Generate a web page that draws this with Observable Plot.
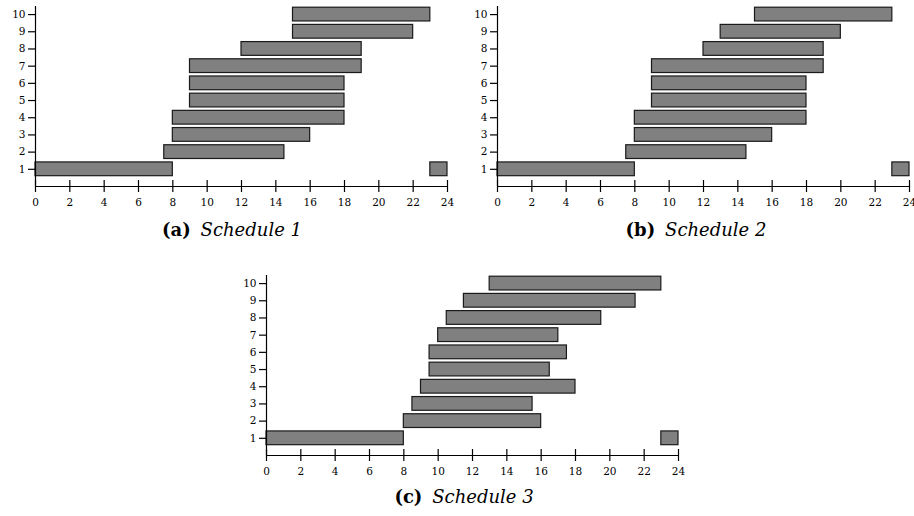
<!DOCTYPE html>
<html>
<head>
<meta charset="utf-8">
<script src="https://cdn.jsdelivr.net/npm/d3@7"></script>
<script src="https://cdn.jsdelivr.net/npm/@observablehq/plot@0.6"></script>
<style>
  html, body { margin: 0; padding: 0; background: #fff; }
  #wrap { position: relative; width: 914px; height: 516px; overflow: hidden; }
  .panel { position: absolute; }
  .cap { position: absolute; transform: translateX(-50%); white-space: nowrap;
         font-family: "DejaVu Serif", serif; font-size: 18px; line-height: 24px; color: #000; }
  .cap b { font-weight: bold; margin-right: 0.55em; }
  .cap i { font-style: italic; }
</style>
</head>
<body>
<div id="wrap"></div>
<script>
// Task rows (y axis)
const rows = [1, 2, 3, 4, 5, 6, 7, 8, 9, 10];
// x-axis tick labels (hours)
const xTicks = [0, 2, 4, 6, 8, 10, 12, 14, 16, 18, 20, 22, 24];
// Schedule 1 start / end hours per row (start > end means it wraps past 24)
const s1Start = [23, 7.5, 8, 8, 9, 9, 9, 12, 15, 15];
const s1End   = [8, 14.5, 16, 18, 18, 18, 19, 19, 22, 23];
// Schedule 2
const s2Start = [23, 7.5, 8, 8, 9, 9, 9, 12, 13, 15];
const s2End   = [8, 14.5, 16, 18, 18, 18, 19, 19, 20, 23];
// Schedule 3
const s3Start = [23, 8, 8.5, 9, 9.5, 9.5, 10, 10.5, 11.5, 13];
const s3End   = [8, 16, 15.5, 18, 16.5, 17.5, 17, 19.5, 21.5, 23];
// Captions
const labels = ["(a)", "(b)", "(c)"];
const names = ["Schedule 1", "Schedule 2", "Schedule 3"];

const DAY = 24;
function segments(starts, ends) {
  const out = [];
  rows.forEach((r, i) => {
    const s = starts[i], e = ends[i];
    if (s <= e) out.push({row: r, start: s, end: e});
    else { out.push({row: r, start: 0, end: e}); out.push({row: r, start: s, end: DAY}); }
  });
  return out;
}

const yTop = 10.47;
const pxPerUnit = 180 / yTop;

function panel(starts, ends, width, marginRight) {
  const bars = segments(starts, ends);
  return Plot.plot({
    width, height: 215,
    marginLeft: 35, marginRight, marginTop: 6, marginBottom: 29,
    x: {domain: [0, DAY]},
    y: {domain: [0, yTop]},
    style: {fontFamily: "'DejaVu Serif', serif", fontSize: "10.5px", background: "transparent", color: "#000"},
    marks: [
      Plot.rect(bars, {x1: "start", x2: "end", y1: d => d.row - 0.4, y2: d => d.row + 0.4,
        fill: "#808080", stroke: "#1a1a1a", strokeWidth: 1.2}),
      Plot.ruleX([0], {stroke: "#000", strokeWidth: 1.2}),
      Plot.ruleY([0], {stroke: "#000", strokeWidth: 1.2}),
      Plot.ruleX(xTicks, {x: d => d, y1: 0, y2: 6 / pxPerUnit, stroke: "#000", strokeWidth: 1.2}),
      Plot.axisY({ticks: rows, tickSize: 7, tickPadding: 3, tickFormat: d => d, label: null, strokeWidth: 1.2, fill: "#000"}),
      Plot.axisX({ticks: xTicks, tickSize: 6, tickPadding: 6, tickFormat: d => d, label: null, strokeWidth: 1.2, fill: "#000"})
    ]
  });
}

const wrap = document.getElementById("wrap");
const layout = [
  {starts: s1Start, ends: s1End, left: 0,   top: 0,   width: 460, mr: 13, capX: 232, capY: 218},
  {starts: s2Start, ends: s2End, left: 462, top: 0,   width: 452, mr: 5,  capX: 696, capY: 218},
  {starts: s3Start, ends: s3End, left: 231, top: 269, width: 460, mr: 13, capX: 464, capY: 485}
];
layout.forEach((p, i) => {
  const div = document.createElement("div");
  div.className = "panel";
  div.style.left = p.left + "px";
  div.style.top = p.top + "px";
  div.appendChild(panel(p.starts, p.ends, p.width, p.mr));
  wrap.appendChild(div);
  const cap = document.createElement("div");
  cap.className = "cap";
  cap.style.left = p.capX + "px";
  cap.style.top = p.capY + "px";
  const b = document.createElement("b"); b.textContent = labels[i];
  const it = document.createElement("i"); it.textContent = names[i];
  cap.appendChild(b); cap.appendChild(it);
  wrap.appendChild(cap);
});
</script>
</body>
</html>
